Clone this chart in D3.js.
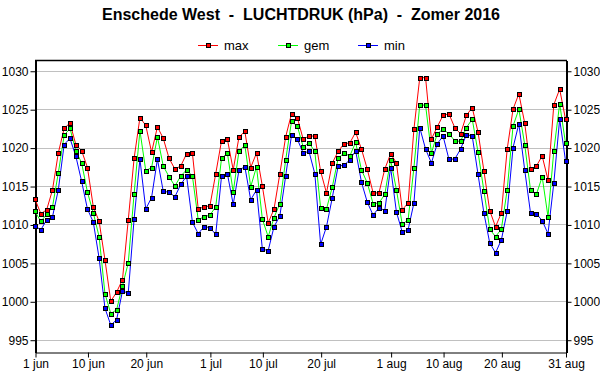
<!DOCTYPE html>
<html>
<head>
<meta charset="utf-8">
<script src="https://cdn.jsdelivr.net/npm/d3@7"></script>
<style>
  body { margin: 0; background: #fff; }
  svg { font-family: 'Liberation Sans', Arial, sans-serif; }
</style>
</head>
<body>
<div id="chart"></div>
<script>
// day index 0 = 1 jun, 91 = 31 aug
const maxValues = [
  1013.3, 1011.4, 1011.9, 1014.5, 1019.3, 1022.5, 1023.2, 1020.4, 1019.6, 1017.4,
  1012.3, 1010.4, 1005.4, 1000.0, 1001.2, 1002.8, 1010.6, 1018.6, 1023.9, 1022.9,
  1019.4, 1022.7, 1021.2, 1018.6, 1017.2, 1017.6, 1019.2, 1019.3, 1012.0, 1012.3,
  1012.4, 1016.6, 1020.9, 1021.1, 1017.1, 1021.4, 1022.1, 1017.4, 1019.3, 1015.0,
  1010.2, 1012.0, 1016.6, 1021.4, 1024.4, 1023.9, 1021.1, 1021.5, 1021.5, 1016.9,
  1014.1, 1018.0, 1019.5, 1020.5, 1020.6, 1022.0, 1019.8, 1017.2, 1014.1, 1014.1,
  1017.2, 1019.2, 1018.0, 1011.9, 1012.8, 1022.4, 1029.1, 1029.1, 1021.1, 1022.7,
  1024.2, 1024.4, 1022.6, 1021.8, 1024.2, 1025.2, 1022.0, 1017.0, 1011.8, 1009.7,
  1011.5, 1019.8, 1025.0, 1027.0, 1023.2, 1017.2, 1017.6, 1018.9, 1015.8, 1025.6,
  1027.6, 1023.7
];
const gemValues = [
  1011.7, 1010.4, 1011.3, 1012.3, 1016.7, 1021.6, 1022.5, 1019.6, 1018.0, 1014.2,
  1011.5, 1008.4, 1001.0, 998.4, 998.9, 1002.0, 1005.0, 1014.0, 1022.2, 1017.0,
  1017.4, 1021.4, 1017.6, 1016.2, 1015.0, 1016.3, 1017.1, 1016.3, 1010.6, 1011.0,
  1011.2, 1012.3, 1018.6, 1019.3, 1014.2, 1019.6, 1020.3, 1014.9, 1017.5, 1010.7,
  1008.4, 1010.9, 1012.7, 1018.4, 1023.4, 1022.8, 1020.1, 1020.6, 1019.5, 1012.1,
  1012.0, 1014.9, 1018.6, 1019.3, 1018.9, 1020.7, 1017.1, 1015.4, 1012.7, 1012.8,
  1013.9, 1018.4, 1014.5, 1010.0, 1010.6, 1017.4, 1025.6, 1025.5, 1019.3, 1021.8,
  1022.4, 1021.8, 1020.9, 1020.8, 1022.6, 1023.7, 1019.4, 1014.4, 1009.4, 1008.4,
  1009.4, 1014.5, 1022.8, 1025.0, 1020.4, 1014.5, 1013.9, 1016.2, 1011.0, 1019.6,
  1025.7, 1020.6
];
const minValues = [
  1009.8, 1009.3, 1010.6, 1011.0, 1014.5, 1020.4, 1021.2, 1018.9, 1015.6, 1012.0,
  1010.3, 1005.6, 999.1, 996.9, 997.6, 1001.3, 1001.1, 1010.7, 1018.5, 1012.0,
  1013.5, 1018.5, 1014.3, 1014.2, 1013.6, 1015.2, 1016.3, 1010.3, 1008.8, 1009.7,
  1009.6, 1008.7, 1016.3, 1016.6, 1012.6, 1017.1, 1017.5, 1013.2, 1014.5, 1006.8,
  1006.6, 1009.7, 1011.1, 1016.3, 1021.6, 1021.1, 1019.3, 1019.5, 1016.6, 1007.4,
  1009.7, 1013.5, 1017.6, 1017.7, 1018.4, 1019.6, 1015.5, 1012.9, 1011.2, 1012.2,
  1011.8, 1017.4, 1011.6, 1009.0, 1009.3, 1012.8, 1022.6, 1019.8, 1018.0, 1020.5,
  1021.5, 1018.5, 1018.5, 1019.8, 1021.7, 1021.5, 1016.5, 1011.5, 1007.6, 1006.3,
  1008.0, 1011.7, 1020.0, 1023.1, 1017.1, 1011.5, 1011.4, 1010.5, 1008.8, 1015.4,
  1023.7, 1018.3
];
const xTickDays = [0, 9, 19, 30, 39, 49, 61, 70, 80, 91];
const xTickLabels = ['1 jun', '10 jun', '20 jun', '1 jul', '10 jul', '20 jul', '1 aug', '10 aug', '20 aug', '31 aug'];
const yTicks = [995, 1000, 1005, 1010, 1015, 1020, 1025, 1030];
const seriesNames = ['max', 'gem', 'min'];
const seriesColors = ['#ff0000', '#00ff00', '#0000ff'];

const
  totalWidth = 600,
  totalHeight = 390;
const
  plot = { left: 35, right: 566, top: 60, bottom: 352 };

const svg = d3.select('#chart').append('svg')
  .attr('width', totalWidth)
  .attr('height', totalHeight);

//--------------------- Scales ------------------------------------------------
const xScale = d3.scaleLinear()
  .domain([0, 91])
  .range([plot.left, plot.right - 0.5]);
const yScale = d3.scaleLinear()
  .domain([993.4, 1031.4])
  .range([plot.bottom, plot.top]);

//--------------------- Title -------------------------------------------------
svg.append('text')
  .attr('x', 301)
  .attr('y', 20)
  .attr('text-anchor', 'middle')
  .style('font-size', '16px')
  .style('font-weight', 'bold')
  .style('white-space', 'pre')
  .text('Enschede West  -  LUCHTDRUK (hPa)  -  Zomer 2016');

//--------------------- Grid --------------------------------------------------
svg.append('g')
  .selectAll('line')
  .data(yTicks)
  .enter()
  .append('line')
    .attr('x1', plot.left)
    .attr('x2', plot.right)
    .attr('y1', d => Math.round(yScale(d)) + 0.5)
    .attr('y2', d => Math.round(yScale(d)) + 0.5)
    .style('stroke', '#c0c0c0')
    .style('stroke-width', 1);

//--------------------- Axes --------------------------------------------------
const yFormat = d3.format('d');
const leftAxis = d3.axisLeft(yScale).tickValues(yTicks).tickFormat(yFormat)
  .tickSize(5).tickPadding(2).tickSizeOuter(0);
const rightAxis = d3.axisRight(yScale).tickValues(yTicks).tickFormat(yFormat)
  .tickSize(5).tickPadding(2).tickSizeOuter(0);
const bottomAxis = d3.axisBottom(xScale).tickValues(xTickDays)
  .tickFormat((d, i) => xTickLabels[i]).tickSize(5).tickPadding(2).tickSizeOuter(0);

const leftAxisView = svg.append('g')
  .attr('transform', 'translate(' + (plot.left + 0.5) + ',0.5)')
  .call(leftAxis);
const rightAxisView = svg.append('g')
  .attr('transform', 'translate(' + (plot.right + 0.5) + ',0.5)')
  .call(rightAxis);
const bottomAxisView = svg.append('g')
  .attr('transform', 'translate(0.5,' + (plot.bottom + 0.5) + ')')
  .call(bottomAxis);

[leftAxisView, rightAxisView, bottomAxisView].forEach(v => {
  v.selectAll('text').style('font-size', '12px').style('font-family', "'Liberation Sans', Arial, sans-serif").style('fill', '#000');
  v.selectAll('line').style('stroke', '#000');
  v.selectAll('path').style('stroke', '#000');
});
leftAxisView.select('path').style('stroke-width', 2);
rightAxisView.select('path').style('stroke-width', 2);

// top frame line
svg.append('line')
  .attr('x1', plot.left)
  .attr('x2', plot.right + 1)
  .attr('y1', plot.top + 0.5)
  .attr('y2', plot.top + 0.5)
  .style('stroke', '#000')
  .style('stroke-width', 1.5);

//--------------------- Series ------------------------------------------------
const seriesData = [maxValues, gemValues, minValues];
const line = d3.line()
  .x((d, i) => xScale(i))
  .y(d => yScale(d));

seriesData.forEach((values, s) => {
  svg.append('path')
    .datum(values)
    .attr('d', line)
    .style('fill', 'none')
    .style('stroke', seriesColors[s])
    .style('stroke-width', 1);
});
seriesData.forEach((values, s) => {
  svg.append('g')
    .selectAll('rect')
    .data(values)
    .enter()
    .append('rect')
      .attr('x', (d, i) => Math.round(xScale(i)) - 1.5)
      .attr('y', d => Math.round(yScale(d)) - 1.5)
      .attr('width', 4)
      .attr('height', 4)
      .style('fill', seriesColors[s])
      .style('stroke', '#000')
      .style('stroke-width', 1);
});

//--------------------- Legend ------------------------------------------------
const legendX = [198, 278, 358];
const legend = svg.append('g');
seriesNames.forEach((name, s) => {
  const g = legend.append('g').attr('transform', 'translate(' + legendX[s] + ',45.5)');
  g.append('line')
    .attr('x1', 0).attr('x2', 20)
    .style('stroke', seriesColors[s])
    .style('stroke-width', 1);
  g.append('rect')
    .attr('x', 8.5).attr('y', -2)
    .attr('width', 4).attr('height', 4)
    .style('fill', seriesColors[s])
    .style('stroke', '#000');
  g.append('text')
    .attr('x', 26)
    .attr('y', 4.5)
    .style('font-size', '13px')
    .text(name);
});
</script>
</body>
</html>
